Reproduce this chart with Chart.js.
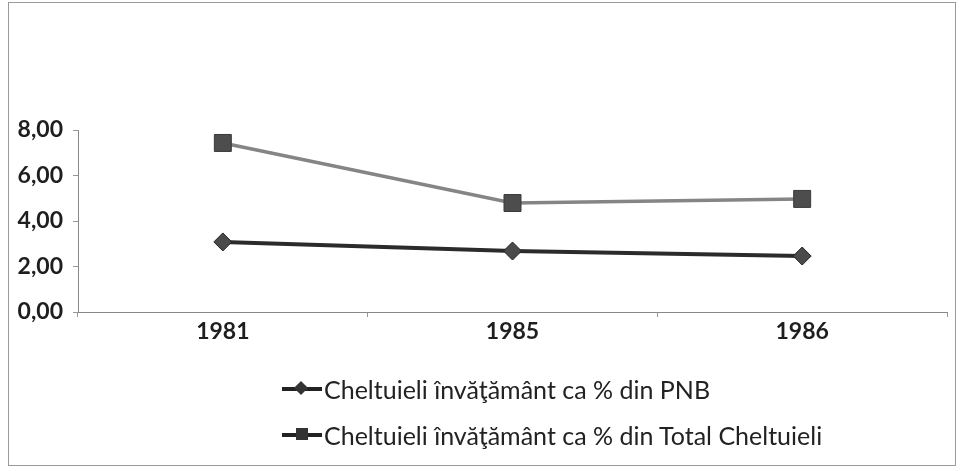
<!DOCTYPE html>
<html lang="ro">
<head>
    <meta charset="UTF-8">
    <title>Cheltuieli învăţământ</title>
    <script src="https://cdn.jsdelivr.net/npm/chart.js"></script>
    <style>
        body { margin: 0; background: #fff; font-family: 'Lato', sans-serif; }
        #wrap { position: relative; width: 963px; height: 471px; }
        #frame { position: absolute; left: 8px; top: 2px; width: 946px; height: 462px; border: 1px solid #9a9a9a; }
        #legend { position: absolute; left: 282px; top: 366px; color: #222; font-size: 25px; }
        .item { display: flex; align-items: center; height: 46px; }
        .mark { position: relative; width: 40px; height: 20px; margin-right: 2px; }
        .mark .ln { position: absolute; left: 0; right: 0; top: 8px; height: 4px; background: #222; }
        .mark .dia { position: absolute; left: 14px; top: 4px; width: 10px; height: 10px; background: #333; transform: rotate(45deg); }
        .mark .sq { position: absolute; left: 14px; top: 3px; width: 12px; height: 12px; background: #333; }
    </style>
</head>
<body>
    <div id="wrap">
        <div id="frame"></div>
        <canvas id="chart" width="963" height="471"></canvas>
        <div id="legend"></div>
    </div>
    <script>
        // date
        const years = ['1981', '1985', '1986'];
        const pnbLabel = 'Cheltuieli învăţământ ca % din PNB';
        const totalLabel = 'Cheltuieli învăţământ ca % din Total Cheltuieli';
        const pnbValues = [3.08, 2.68, 2.46];
        const totalValues = [7.43, 4.79, 4.97];
        const yTicks = [0, 2, 4, 6, 8];

        const ctx = document.getElementById('chart').getContext('2d');

        new Chart(ctx, {
            type: 'line',
            data: {
                labels: years,
                datasets: [
                    {
                        label: pnbLabel,
                        data: pnbValues,
                        borderColor: '#2b2b2b',
                        borderWidth: 4,
                        pointStyle: 'rectRot',
                        pointRadius: 9,
                        pointBackgroundColor: '#4a4a4a',
                        pointBorderColor: '#222',
                        pointBorderWidth: 1,
                        tension: 0
                    },
                    {
                        label: totalLabel,
                        data: totalValues,
                        borderColor: '#858585',
                        borderWidth: 3.5,
                        pointStyle: 'rect',
                        pointRadius: 12,
                        pointBackgroundColor: '#4d4d4d',
                        pointBorderColor: '#3a3a3a',
                        pointBorderWidth: 1,
                        tension: 0
                    }
                ]
            },
            options: {
                responsive: false,
                animation: false,
                layout: { padding: { left: 0, right: 16, top: 130, bottom: 119 } },
                plugins: {
                    legend: { display: false },
                    tooltip: { enabled: false }
                },
                scales: {
                    x: {
                        offset: true,
                        afterFit: (a) => { a.height = 40; },
                        grid: { display: true, drawOnChartArea: false, offset: true, tickLength: 5, color: '#999' },
                        border: { color: '#888', dash: [2, 2], width: 1 },
                        ticks: { color: '#1e1e1e', padding: 1, font: { family: 'Lato', size: 23, weight: 'bold' } }
                    },
                    y: {
                        min: 0,
                        max: 8,
                        afterFit: (a) => { a.width = 78; },
                        afterBuildTicks: (a) => { a.ticks = yTicks.map(v => ({ value: v })); },
                        grid: { display: true, drawOnChartArea: false, tickLength: 5, color: '#999' },
                        border: { color: '#888', dash: [2, 2], width: 1 },
                        ticks: {
                            color: '#1e1e1e',
                            padding: 10,
                            font: { family: 'Lato', size: 23, weight: 'bold' },
                            callback: (v) => v.toFixed(2).replace('.', ',')
                        }
                    }
                }
            }
        });

        // legenda verticala, ca in original
        const legend = document.getElementById('legend');
        [[pnbLabel, 'dia'], [totalLabel, 'sq']].forEach(([txt, cls]) => {
            const row = document.createElement('div');
            row.className = 'item';
            row.innerHTML = '<div class="mark"><div class="ln"></div><div class="' + cls + '"></div></div><span></span>';
            row.querySelector('span').textContent = txt;
            legend.appendChild(row);
        });
    </script>
</body>
</html>
